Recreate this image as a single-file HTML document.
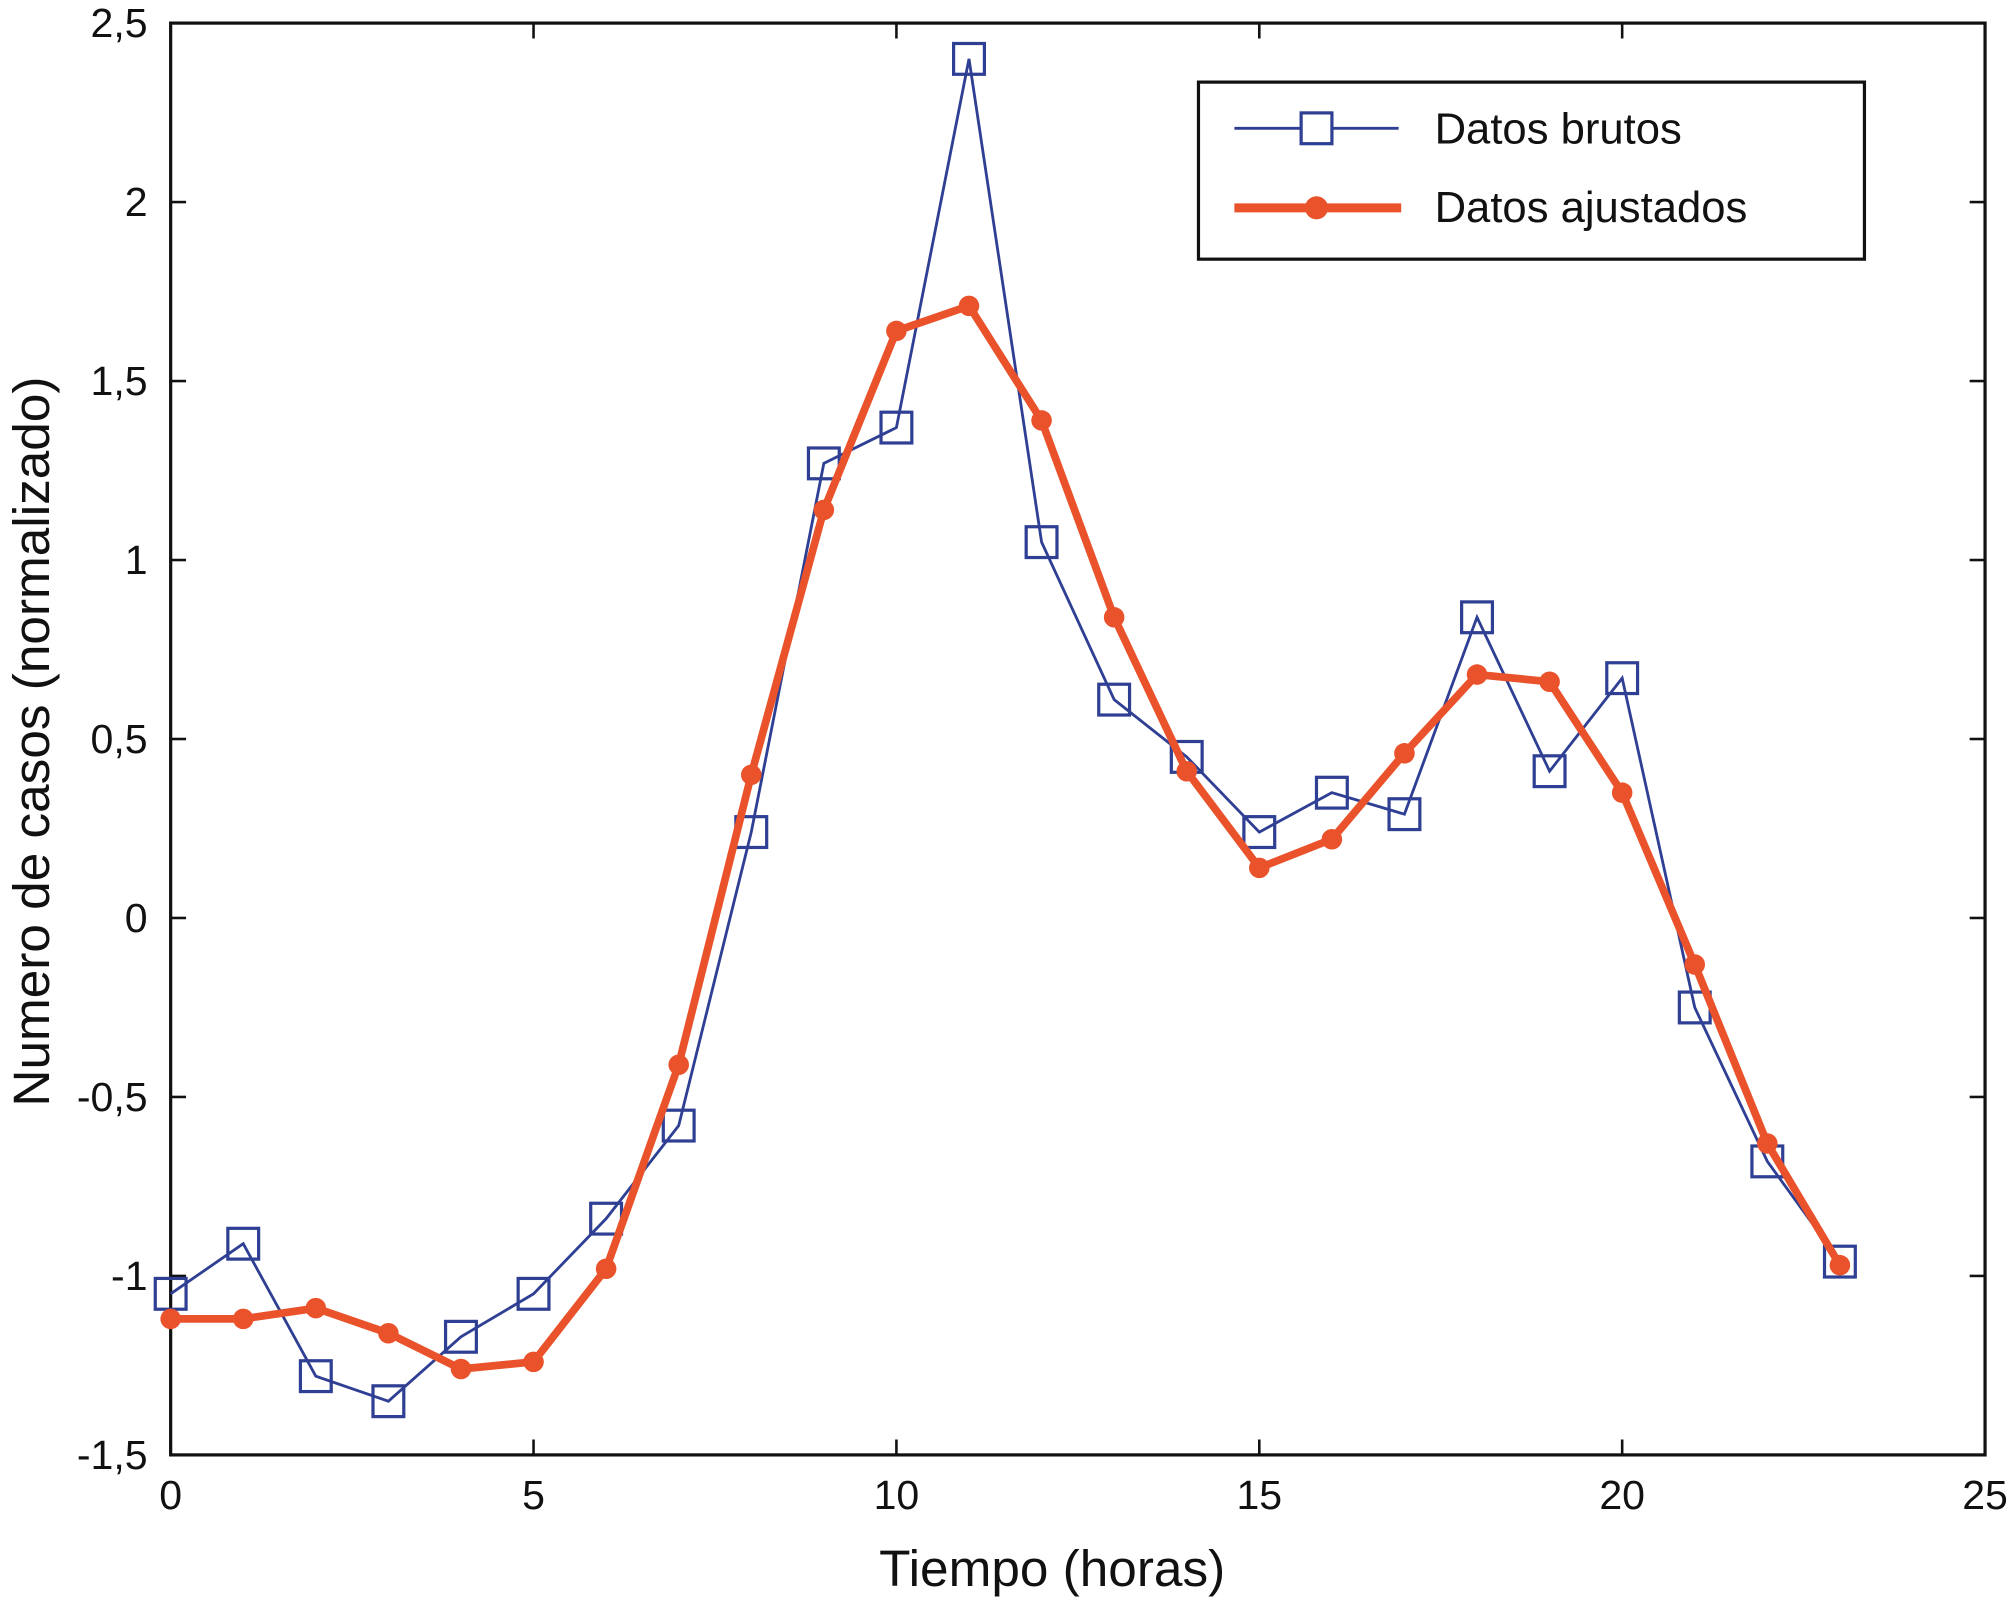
<!DOCTYPE html>
<html><head><meta charset="utf-8">
<style>html,body{margin:0;padding:0;background:#fff}svg{display:block}</style>
</head><body>
<svg id="chart" width="2012" height="1614" viewBox="0 0 1568 1258" preserveAspectRatio="none" xmlns="http://www.w3.org/2000/svg" font-family="'Liberation Sans', Arial, sans-serif">
</svg>
<script>
const hours = [0,1,2,3,4,5,6,7,8,9,10,11,12,13,14,15,16,17,18,19,20,21,22,23];
const rawValues = [-1.05,-0.91,-1.28,-1.35,-1.17,-1.05,-0.84,-0.58,0.24,1.27,1.37,2.40,1.05,0.61,0.45,0.24,0.35,0.29,0.84,0.41,0.67,-0.25,-0.68,-0.96];
const fitValues = [-1.12,-1.12,-1.09,-1.16,-1.26,-1.24,-0.98,-0.41,0.40,1.14,1.64,1.71,1.39,0.84,0.41,0.14,0.22,0.46,0.68,0.66,0.35,-0.13,-0.63,-0.97];
const xTicks = [0,5,10,15,20,25];
const xTickLabels = ["0","5","10","15","20","25"];
const yTicks = [-1.5,-1,-0.5,0,0.5,1,1.5,2,2.5];
const yTickLabels = ["-1,5","-1","-0,5","0","0,5","1","1,5","2","2,5"];

const NS = "http://www.w3.org/2000/svg";
const svg = document.getElementById("chart");
const L=133, R=1547, T=18, B=1134;
const xs = v => L + (v-0)/(25-0)*(R-L);
const ys = v => B - (v+1.5)/(4)*(B-T);
function mk(tag, attrs, parent){const e=document.createElementNS(NS,tag);for(const k in attrs)e.setAttribute(k,attrs[k]);(parent||svg).appendChild(e);return e;}

const frame = mk("rect",{x:L,y:T,width:R-L,height:B-T,fill:"none",stroke:"#111","stroke-width":2.5});



xTicks.forEach((v,i)=>{
  const x=xs(v);
  const t1=mk("line",{x1:x,y1:B,x2:x,y2:B-12,stroke:"#111","stroke-width":2});
  
  
  const t2=mk("line",{x1:x,y1:T,x2:x,y2:T+12,stroke:"#111","stroke-width":2});
  
  
  const tx=mk("text",{x:x,y:B+42,"text-anchor":"middle","font-size":32,fill:"#111"});
  tx.textContent=xTickLabels[i];
  
  
});
yTicks.forEach((v,i)=>{
  const y=ys(v);
  const t1=mk("line",{x1:L,y1:y,x2:L+12,y2:y,stroke:"#111","stroke-width":2});
  
  
  const t2=mk("line",{x1:R,y1:y,x2:R-12,y2:y,stroke:"#111","stroke-width":2});
  
  
  const tx=mk("text",{x:L-18,y:y+11,"text-anchor":"end","font-size":32,fill:"#111"});
  tx.textContent=yTickLabels[i];
  
  
});

const xt=mk("text",{x:(L+R)/2-20,y:1236,"text-anchor":"middle","font-size":40,fill:"#111"});
xt.textContent="Tiempo (horas)";


const yt=mk("text",{x:0,y:0,"text-anchor":"middle","font-size":40,fill:"#111",transform:`translate(38,${(T+B)/2+2}) rotate(-90)`});
yt.textContent="Numero de casos (normalizado)";



const BLUE="#2f3f93", ORANGE="#e9522a";
const rawLine=mk("polyline",{points:hours.map((h,i)=>xs(h)+","+ys(rawValues[i])).join(" "),fill:"none",stroke:BLUE,"stroke-width":2.2});


hours.forEach((h,i)=>{
  const s=mk("rect",{x:xs(h)-12,y:ys(rawValues[i])-12,width:24,height:24,fill:"none",stroke:BLUE,"stroke-width":2.5});
  
  
});
const fitLine=mk("polyline",{points:hours.map((h,i)=>xs(h)+","+ys(fitValues[i])).join(" "),fill:"none",stroke:ORANGE,"stroke-width":6,"stroke-linejoin":"round"});


hours.forEach((h,i)=>{
  const c=mk("circle",{cx:xs(h),cy:ys(fitValues[i]),r:8,fill:ORANGE});
  
  
});

const lg=mk("g",{});


mk("rect",{x:934,y:64,width:519,height:138,fill:"#fff",stroke:"#111","stroke-width":2.5},lg);
mk("line",{x1:962,y1:100,x2:1090,y2:100,stroke:BLUE,"stroke-width":2.2},lg);
mk("rect",{x:1014,y:88,width:24,height:24,fill:"#fff",stroke:BLUE,"stroke-width":2.5},lg);
const l1=mk("text",{x:1118,y:112,"font-size":34,fill:"#111"},lg);
l1.textContent="Datos brutos";


mk("line",{x1:962,y1:162,x2:1092,y2:162,stroke:ORANGE,"stroke-width":7},lg);
mk("circle",{cx:1026,cy:162,r:9,fill:ORANGE},lg);
const l2=mk("text",{x:1118,y:173,"font-size":34,fill:"#111"},lg);
l2.textContent="Datos ajustados";


</script>
</body></html>
